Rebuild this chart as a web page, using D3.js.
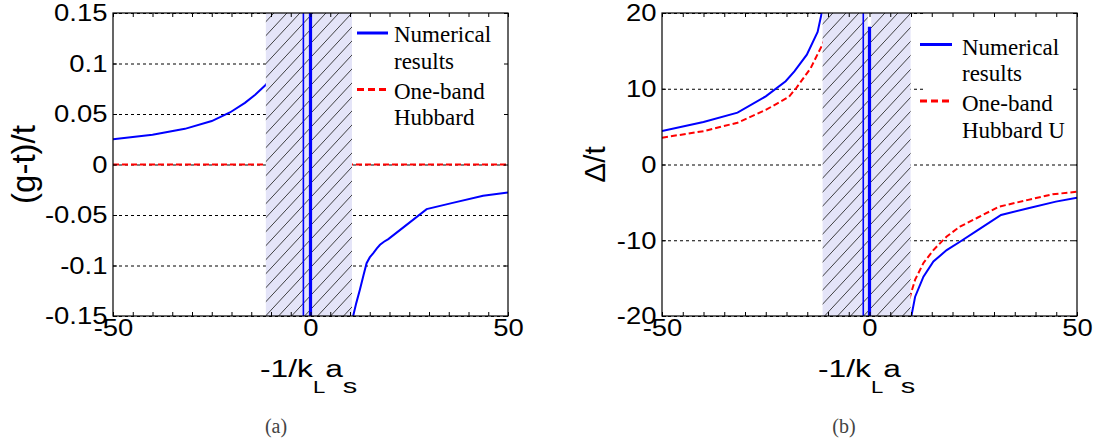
<!DOCTYPE html>
<html><head><meta charset="utf-8">
<script src="https://cdn.jsdelivr.net/npm/d3@7"></script>
<style>body{margin:0;background:#fff} svg{display:block}</style>
</head><body><svg id="c" width="1097" height="444"></svg>
<script>
// ---------- data ----------
const xDomain = [-50, 50];
const xMinorTicks = [-50,-45,-40,-35,-30,-25,-20,-15,-10,-5,0,5,10,15,20,25,30,35,40,45,50];
const xMajorTicks = [-50, 0, 50];
const xTickLabels = ["-50", "0", "50"];

// panel (a): (g-t)/t
const gTicks = [0.15, 0.1, 0.05, 0, -0.05, -0.1, -0.15];
const gTickLabels = ["0.15", "0.1", "0.05", "0", "-0.05", "-0.1", "-0.15"];
const gNumNegX = [-50, -40, -31.8, -25, -20.4, -16.6, -14, -11.3, -10];
const gNumNegY = [0.025, 0.0295, 0.0353, 0.043, 0.0515, 0.061, 0.069, 0.079, 0.085];
const gNumPosX = [10.8, 11.6, 12.5, 13.4, 14.2, 15.0, 15.9, 16.8, 17.6, 18.6, 19.7, 24, 29.4, 36, 43.7, 50];
const gNumPosY = [-0.15, -0.137, -0.124, -0.110, -0.0977, -0.092, -0.0877, -0.083, -0.0795, -0.0765, -0.0739, -0.0608, -0.0442, -0.038, -0.031, -0.0277];
const gHubX = [-50, 50];
const gHubY = [0, 0];
const gPoles = [-1.8, 0];
const gShade = [-11.3, 10.5];

// panel (b): Delta/t
const dTicks = [20, 10, 0, -10, -20];
const dTickLabels = ["20", "10", "0", "-10", "-20"];
const dNumNegX = [-50, -40, -31.8, -25, -20.2, -18.1, -15.1, -12.5, -11.4];
const dNumNegY = [4.42, 5.6, 6.84, 9.0, 11.0, 12.3, 14.5, 17.5, 20.3];
const dHubNegX = [-50, -40, -31.8, -25, -19.4, -17.7, -14.2, -11.2, -10];
const dHubNegY = [3.54, 4.4, 5.52, 7.2, 8.95, 10.06, 12.7, 16.0, 18];
const dNumPosX = [10.1, 11, 13, 15.4, 18.6, 21.8, 26, 31.7, 38, 44.9, 50];
const dNumPosY = [-20, -17.45, -14.8, -12.8, -11.3, -10.2, -8.7, -6.67, -5.8, -4.9, -4.38];
const dHubPosX = [8.5, 10, 11, 13, 15.4, 18.6, 21.8, 26, 31.2, 38, 44.1, 50];
const dHubPosY = [-20, -17, -15.2, -13, -11.3, -9.5, -8.2, -7.03, -5.57, -4.7, -3.94, -3.59];
const dPoles = [-1.5, 0];
const dPoleTop = 18.2;
const dShade = [-11.3, 9.9];

const legendA = ["Numerical", "results", "One-band", "Hubbard"];
const legendB = ["Numerical", "results", "One-band", "Hubbard U"];

// ---------- drawing ----------
const svg = d3.select("#c");
const defs = svg.append("defs");
const pat = defs.append("pattern").attr("id", "hatch")
  .attr("patternUnits", "userSpaceOnUse").attr("width", 13).attr("height", 14);
pat.append("rect").attr("width", 13).attr("height", 14).attr("fill", "#e4e4f8");
pat.append("path").attr("d", "M0,14L13,0M-1,1L1,-1M12,15L14,13")
  .attr("stroke", "#2a2a2a").attr("stroke-width", 0.9).attr("fill", "none");

const zip = (xs, ys) => xs.map((v, i) => [v, ys[i]]);

function drawPanel(p) {
  const x = d3.scaleLinear().domain(xDomain).range([p.x0, p.x1]);
  const y = d3.scaleLinear().domain(p.yDomain).range([p.y1, p.y0]);
  const g = svg.append("g");
  defs.append("clipPath").attr("id", p.id + "clip").append("rect")
    .attr("x", p.x0).attr("y", p.y0).attr("width", p.x1 - p.x0).attr("height", p.y1 - p.y0);

  // grid
  g.append("g").attr("transform", `translate(${p.x0},0)`)
    .call(d3.axisLeft(y).tickValues(p.yTicks).tickSize(-(p.x1 - p.x0)).tickFormat(""))
    .call(s => { s.select(".domain").remove();
      s.selectAll("line").attr("stroke", "#000").attr("stroke-width", 1).attr("stroke-dasharray", "3,3"); });

  const line = d3.line().x(d => x(d[0])).y(d => y(d[1]));
  const data = g.append("g").attr("clip-path", `url(#${p.id}clip)`);
  p.hub.forEach(s => data.append("path").attr("d", line(s)).attr("fill", "none")
    .attr("stroke", "#ff0000").attr("stroke-width", 2).attr("stroke-dasharray", "6,3"));
  p.num.forEach(s => data.append("path").attr("d", line(s)).attr("fill", "none")
    .attr("stroke", "#0000ff").attr("stroke-width", 2));

  // shaded forbidden region
  g.append("rect").attr("x", x(p.shade[0])).attr("y", p.y0)
    .attr("width", x(p.shade[1]) - x(p.shade[0])).attr("height", p.y1 - p.y0)
    .attr("fill", "url(#hatch)");

  // pole lines
  g.append("line").attr("x1", x(p.poles[0])).attr("x2", x(p.poles[0]))
    .attr("y1", p.y0).attr("y2", p.y1).attr("stroke", "#0000ff").attr("stroke-width", 1.6);
  const top = p.poleTop != null ? y(p.poleTop) : p.y0;
  if (p.poleTop != null) {
    g.append("line").attr("x1", x(p.poles[1])).attr("x2", x(p.poles[1]))
      .attr("y1", p.y0).attr("y2", top).attr("stroke", "#fff").attr("stroke-width", 3.5);
  }
  g.append("line").attr("x1", x(p.poles[1])).attr("x2", x(p.poles[1]))
    .attr("y1", top).attr("y2", p.y1).attr("stroke", "#0000ff").attr("stroke-width", 3.2);

  // legend
  const L = p.legend;
  g.append("rect").attr("x", L.x).attr("y", p.y0).attr("width", p.x1 - L.x).attr("height", L.h).attr("fill", "#fff");
  g.append("line").attr("x1", L.sx0).attr("x2", L.sx1).attr("y1", L.by).attr("y2", L.by)
    .attr("stroke", "#0000ff").attr("stroke-width", 3);
  g.append("line").attr("x1", L.sx0).attr("x2", L.sx1).attr("y1", L.ry).attr("y2", L.ry)
    .attr("stroke", "#ff0000").attr("stroke-width", 3).attr("stroke-dasharray", "7,4");
  p.legendText.forEach((t, i) => g.append("text").attr("x", L.tx).attr("y", L.ty[i]).text(t)
    .attr("font-family", "'Liberation Serif', 'Times New Roman', serif").attr("font-size", 23).attr("fill", "#000"));

  // axes
  const axStyle = s => s.attr("font-family", "'Liberation Sans', Arial, sans-serif").attr("font-size", 24.5)
    .call(s2 => s2.select(".domain").remove())
    .call(s2 => s2.selectAll("line").attr("stroke", "#000"))
    .call(s2 => s2.selectAll("text").attr("fill", "#000").attr("transform", "scale(1.12,1)"));
  g.append("g").attr("transform", `translate(0,${p.y1})`)
    .call(d3.axisBottom(x).tickValues(xMinorTicks).tickSize(-4).tickFormat("")).call(axStyle);
  g.append("g").attr("transform", `translate(0,${p.y0})`)
    .call(d3.axisTop(x).tickValues(xMinorTicks).tickSize(-4).tickFormat("")).call(axStyle);
  g.append("g").attr("transform", `translate(0,${p.y1})`)
    .call(d3.axisBottom(x).tickValues(xMajorTicks).tickSize(0).tickPadding(3)
      .tickFormat((d, i) => xTickLabels[i])).call(axStyle);
  g.append("g").attr("transform", `translate(${p.x0},0)`)
    .call(d3.axisLeft(y).tickValues(p.yTicks).tickSize(-4).tickPadding(5)
      .tickFormat((d, i) => p.yLabels[i])).call(axStyle);
  g.append("g").attr("transform", `translate(${p.x1},0)`)
    .call(d3.axisRight(y).tickValues(p.yTicks).tickSize(-4).tickFormat("")).call(axStyle);
  g.append("rect").attr("x", p.x0).attr("y", p.y0).attr("width", p.x1 - p.x0).attr("height", p.y1 - p.y0)
    .attr("fill", "none").attr("stroke", "#000").attr("stroke-width", 1.2);

  // y title
  g.append("text").attr("transform", `translate(${p.ytx},${(p.y0 + p.y1) / 2}) rotate(-90)`)
    .attr("text-anchor", "middle").attr("font-family", "'Liberation Sans', Arial, sans-serif")
    .attr("font-size", p.ytSize).attr("fill", "#000").text(p.yTitle);

  // x title: -1/k_L a_s
  const xt = g.append("g").attr("transform", `translate(${p.xtx},377) scale(1.38,1)`)
    .append("text").attr("font-family", "'Liberation Sans', Arial, sans-serif").attr("fill", "#000");
  xt.append("tspan").attr("font-size", 23).text("-1/k");
  xt.append("tspan").attr("font-size", 16).attr("dy", 16).text("L");
  xt.append("tspan").attr("font-size", 23).attr("dy", -16).text("a");
  xt.append("tspan").attr("font-size", 21).attr("dy", 16).text("s");

  // caption
  g.append("text").attr("x", p.capx).attr("y", 433).attr("text-anchor", "middle")
    .attr("font-family", "'Liberation Serif', 'DejaVu Serif', serif").attr("font-size", 20)
    .attr("fill", "#444").text(p.caption);
}

drawPanel({
  id: "a", x0: 113, x1: 508, y0: 13, y1: 316, yDomain: [-0.15, 0.15],
  yTicks: gTicks, yLabels: gTickLabels,
  num: [zip(gNumNegX, gNumNegY), zip(gNumPosX, gNumPosY)],
  hub: [zip(gHubX, gHubY)],
  shade: gShade, poles: gPoles, poleTop: null,
  legend: { x: 353, h: 117, sx0: 357, sx1: 388, by: 33, ry: 89.5, tx: 394, ty: [42, 68.5, 99, 125] },
  legendText: legendA,
  yTitle: "(g-t)/t", ytx: 35, ytSize: 33, xtx: 260, capx: 276, caption: "(a)"
});
drawPanel({
  id: "b", x0: 662, x1: 1077, y0: 13, y1: 316, yDomain: [-20, 20],
  yTicks: dTicks, yLabels: dTickLabels,
  num: [zip(dNumNegX, dNumNegY), zip(dNumPosX, dNumPosY)],
  hub: [zip(dHubNegX, dHubNegY), zip(dHubPosX, dHubPosY)],
  shade: dShade, poles: dPoles, poleTop: dPoleTop,
  legend: { x: 923, h: 137, sx0: 920, sx1: 952, by: 44.5, ry: 101, tx: 962, ty: [54.5, 81, 111, 138] },
  legendText: legendB,
  yTitle: "Δ/t", ytx: 605, ytSize: 30, xtx: 818, capx: 844, caption: "(b)"
});
</script></body></html>
